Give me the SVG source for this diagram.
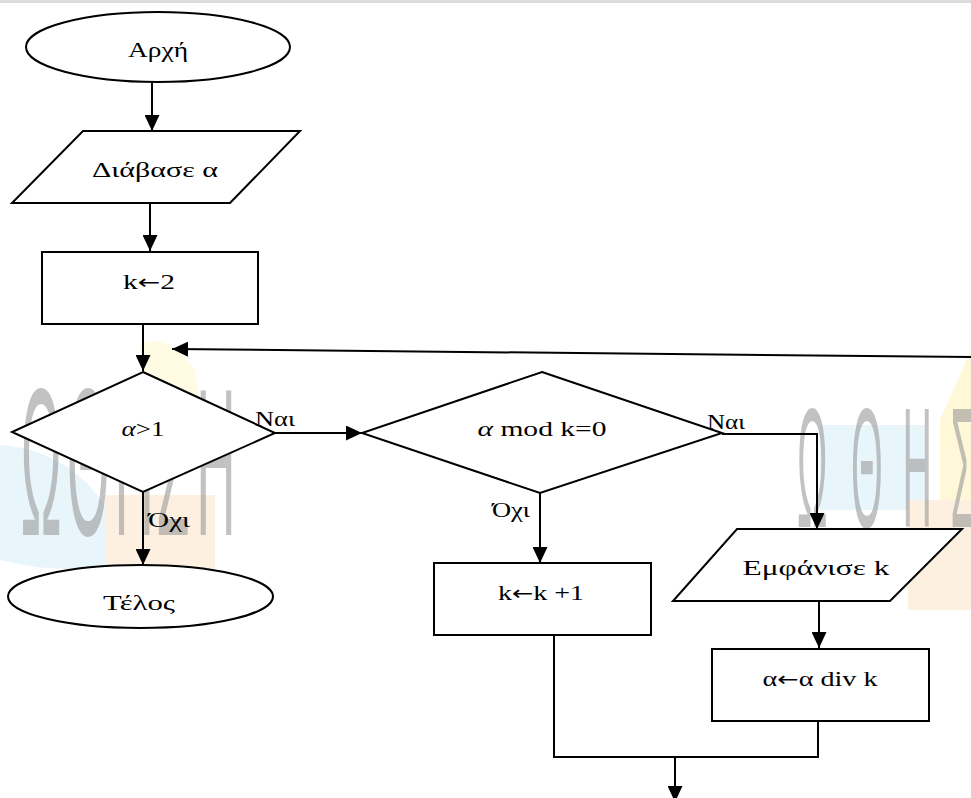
<svg xmlns="http://www.w3.org/2000/svg" width="971" height="798" viewBox="0 0 971 798">
<defs>
<marker id="ah" viewBox="0 0 16 15" refX="16" refY="7.5" markerWidth="16" markerHeight="15" orient="auto" markerUnits="userSpaceOnUse"><path d="M0,0 L16,7.5 L0,15 z" fill="#000"/></marker>
<style>
.shape{fill:#fff;stroke:#000;stroke-width:2}
.lbl{font-family:"Liberation Serif","DejaVu Serif",serif;font-size:22px;fill:#000;text-anchor:middle}
.side{font-family:"Liberation Serif","DejaVu Serif",serif;font-size:22px;fill:#000}
.arr{font-family:"DejaVu Sans",sans-serif;font-size:20px}
.conn{fill:none;stroke:#000;stroke-width:2}
.wm{font-family:"Liberation Sans","DejaVu Sans",sans-serif;fill:#9a9a9a;opacity:0.6}
</style>
</defs>
<rect x="0" y="0" width="971" height="798" fill="#fff"/>
<rect x="0" y="0" width="971" height="3" fill="#dcdcdc"/>
<g id="watermark">
<path d="M0,445 Q70,450 108,510 L108,565 Q60,575 0,560 z" fill="#e8f6fc"/>
<rect x="105" y="495" width="110" height="105" fill="#fdf0e0"/>
<path d="M140,345 Q165,330 195,370 L205,440 L150,440 z" fill="#fffce3"/>
<rect x="820" y="425" width="105" height="85" fill="#e8f6fc"/>
<rect x="908" y="500" width="63" height="110" fill="#fdf0e0"/>
<path d="M971,350 L940,420 L940,500 L971,500 z" fill="#fff8d8"/>
<text class="wm" font-size="210" transform="translate(0,535) scale(0.26,1)"><tspan x="80">Ω</tspan><tspan x="258">Θ</tspan><tspan x="440">Η</tspan><tspan x="600">Σ</tspan><tspan x="755">Η</tspan></text>
<text class="wm" font-size="170" transform="translate(797,527) scale(0.24,1)"><tspan x="0">Ω</tspan><tspan x="225">Θ</tspan><tspan x="440">Η</tspan><tspan x="640">Σ</tspan></text>
</g>
<g id="start"><ellipse class="shape" cx="158" cy="47" rx="132" ry="35"/><text class="lbl" x="158" y="57" textLength="60" lengthAdjust="spacingAndGlyphs">Αρχή</text></g>
<g id="read"><polygon class="shape" points="83,131 300,131 230,203 12,203"/><text class="lbl" x="155" y="177" textLength="126" lengthAdjust="spacingAndGlyphs">Διάβασε α</text></g>
<g id="init"><rect class="shape" x="42" y="252" width="216" height="72"/><text class="lbl" x="149" y="289" textLength="52" lengthAdjust="spacingAndGlyphs">k<tspan class="arr">←</tspan>2</text></g>
<g id="cond1"><polygon class="shape" points="143,372 275,433 143,492 12,432"/><text class="lbl" x="143" y="436" textLength="43" lengthAdjust="spacingAndGlyphs"><tspan font-style="italic">α</tspan>&gt;1</text></g>
<g id="end"><ellipse class="shape" cx="140.5" cy="596.5" rx="132.5" ry="31.5"/><text class="lbl" x="139" y="610" textLength="72" lengthAdjust="spacingAndGlyphs">Τέλος</text></g>
<g id="cond2"><polygon class="shape" points="542,372 722,433 540,493 362,433"/><text class="lbl" x="542" y="436" textLength="129" lengthAdjust="spacingAndGlyphs"><tspan font-style="italic">α</tspan> mod k=0</text></g>
<g id="inc"><rect class="shape" x="434" y="563" width="217" height="72"/><text class="lbl" x="541" y="600" textLength="86" lengthAdjust="spacingAndGlyphs">k<tspan class="arr">←</tspan>k +1</text></g>
<g id="print"><polygon class="shape" points="737,529 962,529 890,601 673,601"/><text class="lbl" x="816" y="575" textLength="147" lengthAdjust="spacingAndGlyphs">Εμφάνισε  k</text></g>
<g id="div"><rect class="shape" x="712" y="649" width="217" height="72"/><text class="lbl" x="820" y="686" textLength="115" lengthAdjust="spacingAndGlyphs">α<tspan class="arr">←</tspan>α div k</text></g>
<g id="connectors">
<line class="conn" x1="152" y1="82" x2="152" y2="131" marker-end="url(#ah)"/>
<line class="conn" x1="150" y1="203" x2="150" y2="251" marker-end="url(#ah)"/>
<line class="conn" x1="143" y1="324" x2="143" y2="371" marker-end="url(#ah)"/>
<line class="conn" x1="972" y1="357" x2="172" y2="349" marker-end="url(#ah)"/>
<line class="conn" x1="275" y1="433" x2="362" y2="433" marker-end="url(#ah)"/>
<line class="conn" x1="143" y1="492" x2="143" y2="565" marker-end="url(#ah)"/>
<polyline class="conn" points="722,434 817,434 817,529" marker-end="url(#ah)"/>
<line class="conn" x1="540" y1="493" x2="540" y2="563" marker-end="url(#ah)"/>
<line class="conn" x1="819" y1="601" x2="819" y2="648" marker-end="url(#ah)"/>
<polyline class="conn" points="554,634 554,757 818,757 818,721"/>
<line class="conn" x1="675" y1="757" x2="675" y2="802" marker-end="url(#ah)"/>
<text class="side" x="255" y="426" textLength="40" lengthAdjust="spacingAndGlyphs">Ναι</text>
<text class="side" x="148" y="527" textLength="42" lengthAdjust="spacingAndGlyphs">Όχι</text>
<text class="side" x="707" y="429" textLength="38" lengthAdjust="spacingAndGlyphs">Ναι</text>
<text class="side" x="492" y="517" textLength="38" lengthAdjust="spacingAndGlyphs">Όχι</text>
</g>
</svg>
